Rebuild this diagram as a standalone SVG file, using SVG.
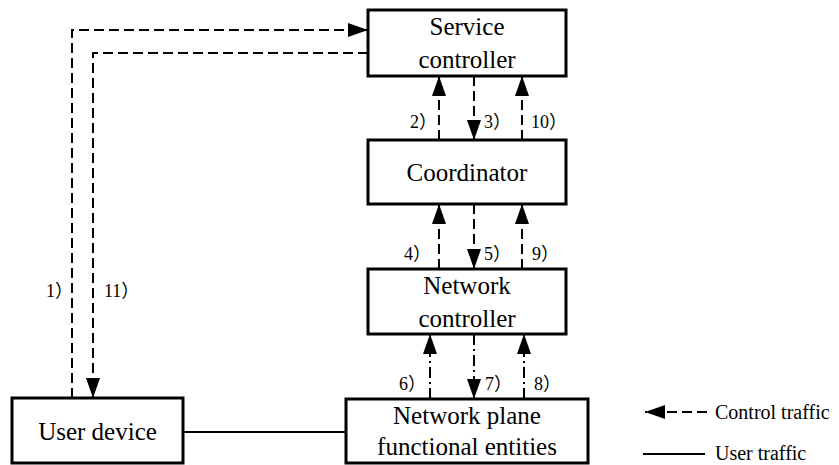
<svg xmlns="http://www.w3.org/2000/svg" width="839" height="465" viewBox="0 0 839 465">
<defs>
<marker id="ah" markerUnits="userSpaceOnUse" markerWidth="20" markerHeight="14" refX="20" refY="7" orient="auto">
<path d="M0,0 L20,7 L0,14 Z" fill="#000"/>
</marker>
<style>
.box{fill:#fff;stroke:#000;stroke-width:3}
.t{font-family:'Liberation Serif','Times New Roman','DejaVu Serif',serif;font-size:25px;fill:#000;text-anchor:middle}
.lb{font-family:'Liberation Serif','Noto Sans CJK SC',serif;font-size:18px;fill:#000}
.lg{font-family:'Liberation Serif','Times New Roman','DejaVu Serif',serif;font-size:20px;fill:#000}
.d{fill:none;stroke:#000;stroke-width:2;stroke-dasharray:10 5}
.dd{fill:none;stroke:#000;stroke-width:2;stroke-dasharray:11 4 2 4}
.s{fill:none;stroke:#000;stroke-width:2}
</style>
</defs>
<rect width="839" height="465" fill="#fff"/>
<g id="connectors">
<path class="d" d="M72,398 V30 H368" marker-end="url(#ah)"/>
<path class="d" d="M368,53 H93 V398" marker-end="url(#ah)"/>
<path class="d" d="M439,140 V76" marker-end="url(#ah)"/>
<path class="d" d="M474,76 V140" marker-end="url(#ah)"/>
<path class="d" d="M522,140 V76" marker-end="url(#ah)"/>
<path class="d" d="M439,269 V204" marker-end="url(#ah)"/>
<path class="d" d="M474,204 V269" marker-end="url(#ah)"/>
<path class="d" d="M522,269 V204" marker-end="url(#ah)"/>
<path class="dd" d="M430,399 V334" marker-end="url(#ah)"/>
<path class="dd" d="M474,334 V399" marker-end="url(#ah)"/>
<path class="dd" d="M524,399 V334" marker-end="url(#ah)"/>
<path class="s" d="M183,432 H346"/>
<text class="lb" x="46" y="297">1）</text>
<text class="lb" x="104" y="297">11）</text>
<text class="lb" x="410" y="128">2）</text>
<text class="lb" x="484" y="128">3）</text>
<text class="lb" x="531" y="128">10）</text>
<text class="lb" x="404" y="260">4）</text>
<text class="lb" x="484" y="260">5）</text>
<text class="lb" x="532" y="260">9）</text>
<text class="lb" x="399" y="390">6）</text>
<text class="lb" x="485" y="390">7）</text>
<text class="lb" x="534" y="390">8）</text>
</g>
<g id="service-controller">
<rect class="box" x="368" y="10" width="198" height="66"/>
<text class="t" x="467" y="35">Service</text>
<text class="t" x="467" y="68">controller</text>
</g>
<g id="coordinator">
<rect class="box" x="368" y="140" width="198" height="64"/>
<text class="t" x="467" y="181">Coordinator</text>
</g>
<g id="network-controller">
<rect class="box" x="368" y="269" width="198" height="65"/>
<text class="t" x="467" y="294">Network</text>
<text class="t" x="467" y="327">controller</text>
</g>
<g id="network-plane">
<rect class="box" x="346" y="399" width="242" height="64"/>
<text class="t" x="467" y="424">Network plane</text>
<text class="t" x="467" y="455">functional entities</text>
</g>
<g id="user-device">
<rect class="box" x="12" y="398" width="171" height="65"/>
<text class="t" x="97.5" y="440">User device</text>
</g>
<g id="legend">
<path class="d" d="M707,412 H645" marker-end="url(#ah)"/>
<text class="lg" x="715" y="419">Control traffic</text>
<path class="s" d="M643,454 H705"/>
<text class="lg" x="715" y="460">User traffic</text>
</g>
</svg>
